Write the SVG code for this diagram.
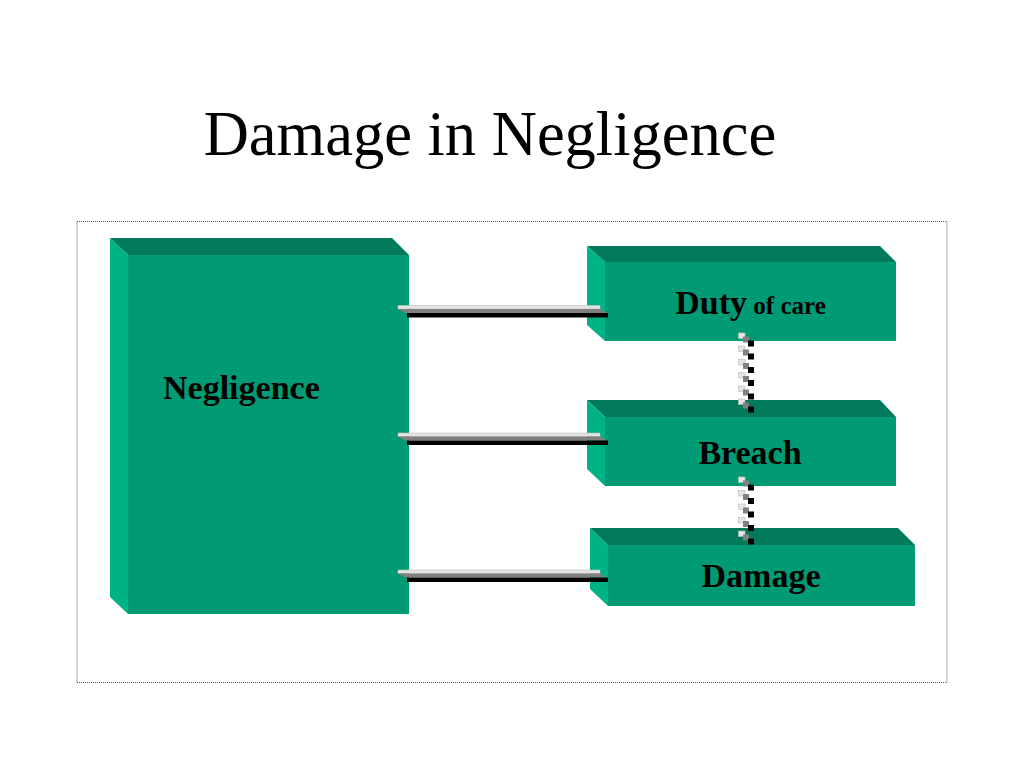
<svg xmlns="http://www.w3.org/2000/svg" xmlns:xlink="http://www.w3.org/1999/xlink" width="1024" height="768" viewBox="0 0 1024 768">
<style>
.front{fill:#009b74}
.top{fill:#007a5b}
.side{fill:#00b386}
.lbl{font-family:"Liberation Serif","Times New Roman",serif;font-weight:bold;fill:#000}
.title{font-family:"Liberation Serif","Times New Roman",serif;font-size:62.5px;fill:#000}
.lt{fill:#e4e4e4;stroke:#bdbdbd;stroke-width:0.6}
.gr{fill:#808080}
.bk{fill:#000}
</style>
<defs>
<g id="bar">
<polygon class="lt" points="398,0 600,0 600,3.5 398,3.5"/>
<polygon class="gr" points="398,3.5 600,3.5 607,7.5 405,7.5"/>
<rect class="bk" x="407" y="7.5" width="201" height="4.5"/>
</g>
<g id="link">
<rect class="lt" x="738.5" y="0" width="6.5" height="5.5"/>
<rect class="gr" x="743" y="3.5" width="6" height="6"/>
<rect class="bk" x="748" y="7.5" width="6" height="6"/>
</g>
</defs>
<rect width="1024" height="768" fill="#fff"/>
<text class="title" x="490" y="155" text-anchor="middle">Damage in Negligence</text>
<rect x="77" y="221.5" width="870" height="461" fill="none" stroke="#555" stroke-width="1" stroke-dasharray="1,1"/>
<g id="node-negligence">
<polygon class="top" points="110,238 392,238 409,255 128,255"/>
<polygon class="side" points="110,238 128,255 128,614 110,597"/>
<rect class="front" x="128" y="255" width="281" height="359"/>
<text class="lbl" x="163" y="399" font-size="34">Negligence</text>
</g>
<g id="node-duty">
<polygon class="top" points="587,246 880,246 896,262 605,262"/>
<polygon class="side" points="587,246 605,262 605,341 587,325"/>
<rect class="front" x="605" y="262" width="291" height="79"/>
<text class="lbl" x="750.5" y="314" text-anchor="middle"><tspan font-size="34">Duty</tspan><tspan font-size="25"> of care</tspan></text>
</g>
<g id="node-breach">
<polygon class="top" points="587,400 880,400 896,417 605,417"/>
<polygon class="side" points="587,400 605,417 605,486 587,469"/>
<rect class="front" x="605" y="417" width="291" height="69"/>
<text class="lbl" x="750" y="464" font-size="34" text-anchor="middle">Breach</text>
</g>
<g id="node-damage">
<polygon class="top" points="590,528 898,528 915,545 608,545"/>
<polygon class="side" points="590,528 608,545 608,606 590,589"/>
<rect class="front" x="608" y="545" width="307" height="61"/>
<text class="lbl" x="761" y="587" font-size="34" text-anchor="middle">Damage</text>
</g>
<g id="connectors">
<use xlink:href="#bar" y="305.5"/>
<use xlink:href="#bar" y="433"/>
<use xlink:href="#bar" y="570"/>
<use xlink:href="#link" y="333"/>
<use xlink:href="#link" y="346"/>
<use xlink:href="#link" y="359.5"/>
<use xlink:href="#link" y="372.5"/>
<use xlink:href="#link" y="386"/>
<use xlink:href="#link" y="399"/>
<use xlink:href="#link" y="477"/>
<use xlink:href="#link" y="490.5"/>
<use xlink:href="#link" y="504"/>
<use xlink:href="#link" y="517.5"/>
<use xlink:href="#link" y="531"/>
</g>
</svg>
